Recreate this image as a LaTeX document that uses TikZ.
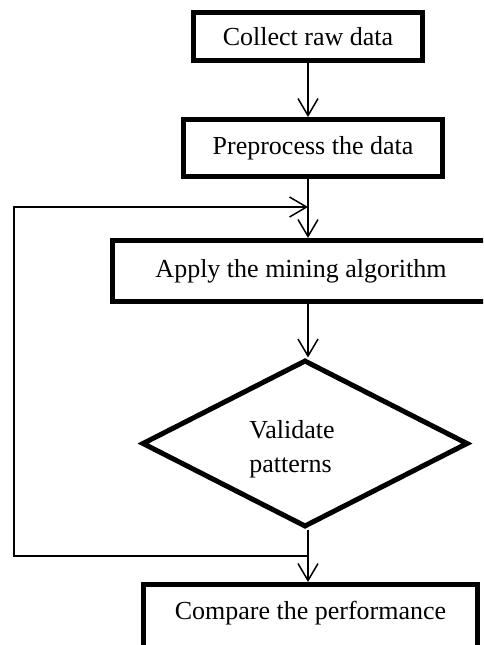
\documentclass[tikz,border=0pt]{standalone}
\usepackage{fontspec}
\setmainfont{Liberation Serif}
\usetikzlibrary{shapes.geometric,arrows.meta}

\begin{document}
\begin{tikzpicture}[x=1pt, y=1pt, font=\fontsize{26}{34}\selectfont,
    box/.style = {draw, line width=5pt, inner sep=0pt},
    decision/.style = {draw, diamond, line width=5pt, inner sep=0pt,
        minimum width=326pt, minimum height=167pt},
    flow/.style = {line width=1.5pt, -{Straight Barb[length=17pt,width=20pt]}}]
    \clip (0,0) rectangle (483,-645);
    \coordinate (axis) at (308,0);
    \node[box, minimum width=229pt, minimum height=48pt] (collect) at (308,-36.5) {Collect raw data};
    \node[box, minimum width=259pt, minimum height=57pt] (prep) at (313,-148) {Preprocess the data};
    \node[box, minimum width=377pt, minimum height=61pt] (mine) at (301,-271) {Apply the mining algorithm};
    \node[decision] (valid) at (305,-443.5) {};
    \node[align=left] (validtext) at (292,-449) {Validate\\patterns};
    \node[box, minimum width=334pt, minimum height=74pt, text depth=22pt] (compare) at (310.5,-621.5) {Compare the performance};
    % feedback loop
    \coordinate (loopout) at (308,-556);
    \coordinate (loopleft) at (14,-556);
    \coordinate (loopin) at (308,-207);
    \draw[flow] (collect.south -| axis) -- (prep.north -| axis);
    \draw[flow] (prep.south -| axis) -- (mine.north -| axis);
    \draw[flow] (mine.south -| axis) -- (valid.north -| axis);
    \draw[flow] (valid.south -| axis) -- (compare.north -| axis);
    \draw[flow] (loopout) -- (loopleft) |- (loopin);
\end{tikzpicture}
\end{document}
